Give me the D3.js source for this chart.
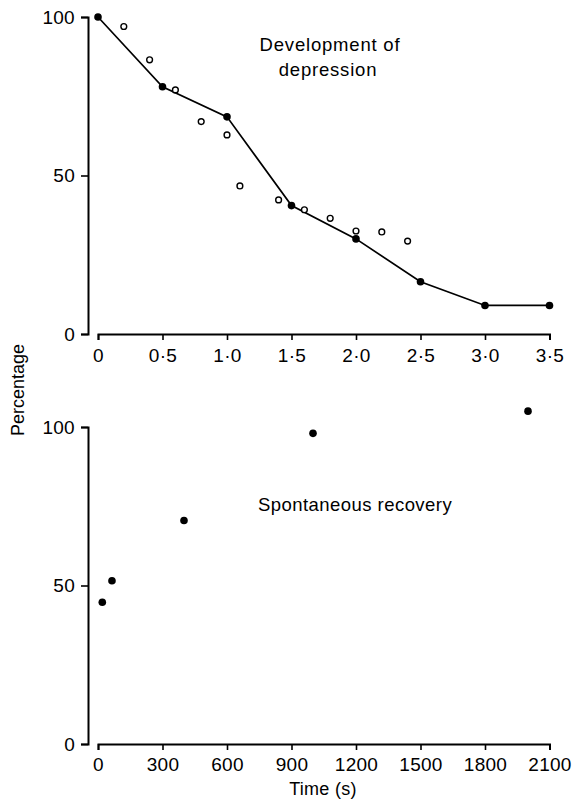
<!DOCTYPE html>
<html>
<head>
<meta charset="utf-8">
<script src="https://cdn.jsdelivr.net/npm/d3@7"></script>
<style>
  html, body { margin: 0; padding: 0; background: #fff; }
  svg { display: block; }
  text { font-family: "Liberation Sans", Arial, Helvetica, sans-serif; fill: #000; }
</style>
</head>
<body>
<svg id="chart" width="575" height="803"></svg>
<script>
// ---- Data ----
const depTime = [0, 0.5, 1.0, 1.5, 2.0, 2.5, 3.0, 3.5];
const depValues = [100, 78, 68.5, 40.5, 30, 16.5, 9, 9];
const openTime = [0.2, 0.4, 0.6, 0.8, 1.0, 1.1, 1.4, 1.6, 1.8, 2.0, 2.2, 2.4];
const openValues = [97, 86.5, 77, 67, 62.8, 46.7, 42.3, 39.2, 36.5, 32.5, 32.2, 29.3];
const recTime = [20, 65, 400, 1000, 2000];
const recValues = [44.7, 51.5, 70.5, 98, 105];
const yTicks = [0, 50, 100];
const topXTicks = [0, 0.5, 1.0, 1.5, 2.0, 2.5, 3.0, 3.5];
const botXTicks = [0, 300, 600, 900, 1200, 1500, 1800, 2100];
const topTitle = ["Development of", "depression"];
const botTitle = "Spontaneous recovery";
const yLabel = "Percentage";
const xLabel = "Time (s)";

const svg = d3.select("#chart");

// ---- Scales ----
const xTop = d3.scaleLinear().domain([0, 3.5]).range([98, 549.5]);
const yTop = d3.scaleLinear().domain([0, 100]).range([334, 17]);
const xBot = d3.scaleLinear().domain([0, 2100]).range([98, 549.5]);
const yBot = d3.scaleLinear().domain([0, 100]).range([744, 427]);

function styleAxis(g) {
  g.selectAll("path.domain").attr("stroke", "#000").attr("stroke-width", 2).attr("fill", "none");
  g.selectAll(".tick line").attr("stroke", "#000").attr("stroke-width", 1.6);
  g.selectAll(".tick text").attr("font-size", 19).attr("letter-spacing", 0.3).attr("fill", "#000")
    .attr("font-family", '"Liberation Sans", Arial, sans-serif');
}

const fmtTop = d => d === 0 ? "0" : d3.format(".1f")(d).replace(".", "\u00B7");

// ---- Top panel axes ----
svg.append("g").attr("transform", "translate(88,0)")
  .call(d3.axisLeft(yTop).tickValues(yTicks).tickSize(7).tickSizeOuter(7).tickPadding(6))
  .call(styleAxis);
svg.append("g").attr("transform", "translate(0,334)")
  .call(d3.axisBottom(xTop).tickValues(topXTicks).tickFormat(fmtTop).tickSize(6).tickSizeOuter(6).tickPadding(9))
  .call(styleAxis);

// ---- Bottom panel axes ----
svg.append("g").attr("transform", "translate(88,0)")
  .call(d3.axisLeft(yBot).tickValues(yTicks).tickSize(7).tickSizeOuter(7).tickPadding(6))
  .call(styleAxis);
svg.append("g").attr("transform", "translate(0,744)")
  .call(d3.axisBottom(xBot).tickValues(botXTicks).tickFormat(d3.format("d")).tickSize(6).tickSizeOuter(6).tickPadding(8))
  .call(styleAxis);

// ---- Top panel marks ----
const line = d3.line().x(d => xTop(d[0])).y(d => yTop(d[1]));
const depData = depTime.map((t, i) => [t, depValues[i]]);
svg.append("path").datum(depData).attr("d", line)
  .attr("fill", "none").attr("stroke", "#000").attr("stroke-width", 1.7);
svg.append("g").selectAll("circle").data(depData).join("circle")
  .attr("cx", d => xTop(d[0])).attr("cy", d => yTop(d[1])).attr("r", 3.8).attr("fill", "#000");
svg.append("g").selectAll("circle").data(openTime.map((t, i) => [t, openValues[i]])).join("circle")
  .attr("cx", d => xTop(d[0])).attr("cy", d => yTop(d[1])).attr("r", 2.9)
  .attr("fill", "#fff").attr("stroke", "#000").attr("stroke-width", 1.4);

// ---- Bottom panel marks ----
svg.append("g").selectAll("circle").data(recTime.map((t, i) => [t, recValues[i]])).join("circle")
  .attr("cx", d => xBot(d[0])).attr("cy", d => yBot(d[1])).attr("r", 3.8).attr("fill", "#000");

// ---- Texts ----
svg.append("text").attr("x", 330).attr("y", 50.5).attr("text-anchor", "middle")
  .attr("font-size", 18.5).attr("letter-spacing", 0.8).text(topTitle[0]);
svg.append("text").attr("x", 328).attr("y", 75.5).attr("text-anchor", "middle")
  .attr("font-size", 18.5).attr("letter-spacing", 0.8).text(topTitle[1]);
svg.append("text").attr("x", 258).attr("y", 510.7).attr("text-anchor", "start")
  .attr("font-size", 18.5).attr("letter-spacing", 0.45).text(botTitle);
svg.append("text").attr("transform", "translate(24,390) rotate(-90)").attr("text-anchor", "middle")
  .attr("font-size", 18).text(yLabel);
svg.append("text").attr("x", 323).attr("y", 795).attr("text-anchor", "middle")
  .attr("font-size", 18).attr("letter-spacing", 0.3).text(xLabel);
</script>
</body>
</html>
